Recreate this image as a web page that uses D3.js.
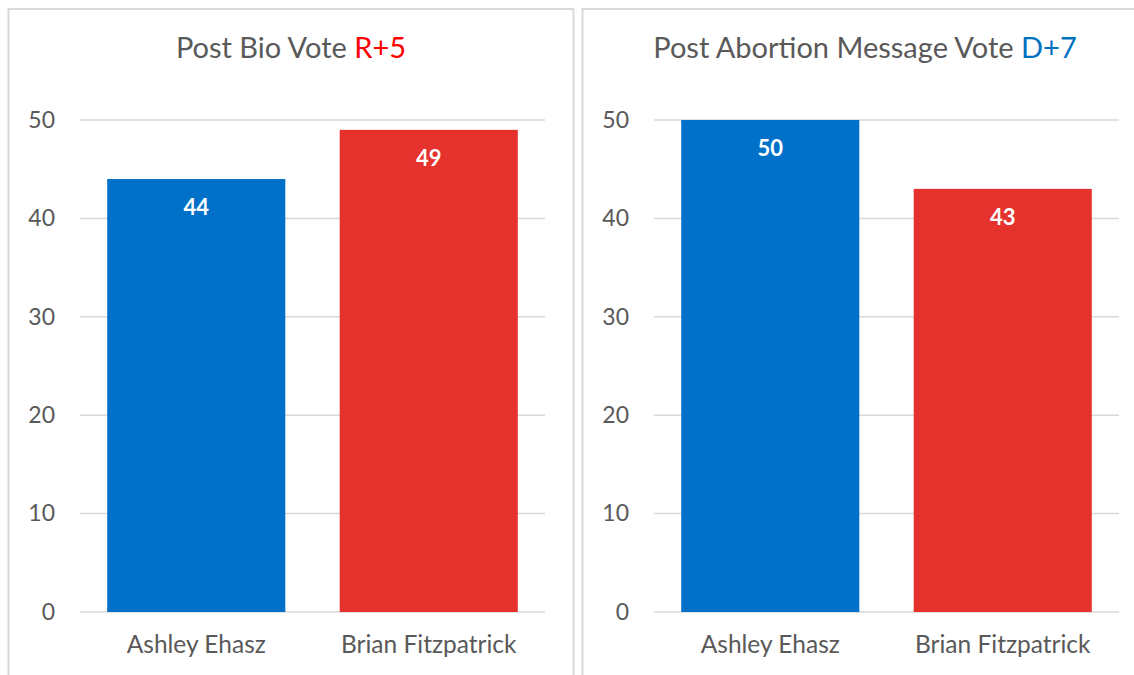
<!DOCTYPE html>
<html>
<head>
<meta charset="utf-8">
<script src="https://cdn.jsdelivr.net/npm/d3@7/dist/d3.min.js"></script>
<style>
  html, body { margin: 0; padding: 0; background: #fff; }
  svg { display: block; font-family: Lato, "Open Sans", sans-serif; }
</style>
</head>
<body>
<svg id="chart" width="1134" height="675"></svg>
<script>
const categories = ["Ashley Ehasz", "Brian Fitzpatrick"];
const bioValues = [44, 49];
const abortionValues = [50, 43];
const titles = [
  { text: "Post Bio Vote ", accent: "R+5", accentColor: "#ff0000" },
  { text: "Post Abortion Message Vote ", accent: "D+7", accentColor: "#0070c0" }
];
const yTicks = [0, 10, 20, 30, 40, 50];
const barColors = ["#0070c8", "#e5322d"];

const panels = [
  { values: bioValues, title: titles[0], x0: 8.5 },
  { values: abortionValues, title: titles[1], x0: 582.5 }
];

const svg = d3.select("#chart");
const panelW = 565, panelTop = 9, panelH = 700;
const textColor = "#595959";
const gridColor = "#d9d9d9";

panels.forEach(p => {
  const g = svg.append("g").attr("transform", `translate(${p.x0},0)`);
  g.append("rect")
    .attr("x", 0).attr("y", panelTop)
    .attr("width", panelW).attr("height", panelH)
    .attr("fill", "#fff").attr("stroke", gridColor).attr("stroke-width", 2);

  const plotL = 71.5, plotR = 536.5;
  const x = d3.scaleBand().domain(categories).range([plotL, plotR])
    .paddingInner(0.234).paddingOuter(0.117);
  const y = d3.scaleLinear().domain([0, 50]).range([612, 120]);

  // gridlines
  g.append("g").selectAll("line").data(yTicks).join("line")
    .attr("x1", plotL).attr("x2", plotR)
    .attr("y1", d => y(d)).attr("y2", d => y(d))
    .attr("stroke", gridColor).attr("stroke-width", 1.5);

  // y axis labels
  const yAxis = d3.axisLeft(y).tickValues(yTicks).tickSize(0).tickPadding(0);
  const ya = g.append("g").attr("transform", `translate(${plotL - 25},0)`).call(yAxis);
  ya.select(".domain").remove();
  ya.selectAll("text").attr("fill", textColor).attr("font-size", 23)
    .attr("font-family", "Lato, sans-serif");

  // bars
  g.append("g").selectAll("rect").data(p.values).join("rect")
    .attr("x", (d, i) => x(categories[i]))
    .attr("y", d => y(d))
    .attr("width", x.bandwidth())
    .attr("height", d => y(0) - y(d))
    .attr("fill", (d, i) => barColors[i]);

  // data labels
  g.append("g").selectAll("text").data(p.values).join("text")
    .attr("x", (d, i) => x(categories[i]) + x.bandwidth() / 2)
    .attr("y", d => y(d) + 36)
    .attr("text-anchor", "middle")
    .attr("fill", "#fff").attr("font-weight", "bold").attr("font-size", 22)
    .text(d => d);

  // x axis labels
  const xAxis = d3.axisBottom(x).tickSize(0).tickPadding(0);
  const xa = g.append("g").attr("transform", `translate(0,${y(0) + 41})`).call(xAxis);
  xa.select(".domain").remove();
  xa.selectAll("text").attr("fill", textColor).attr("font-size", 24.5)
    .attr("font-family", "Lato, sans-serif").attr("dy", 0);

  // title
  const t = g.append("text")
    .attr("x", panelW / 2).attr("y", 58)
    .attr("text-anchor", "middle")
    .attr("font-size", 29).attr("fill", textColor);
  t.append("tspan").text(p.title.text);
  t.append("tspan").attr("fill", p.title.accentColor).text(p.title.accent);
});
</script>
</body>
</html>
